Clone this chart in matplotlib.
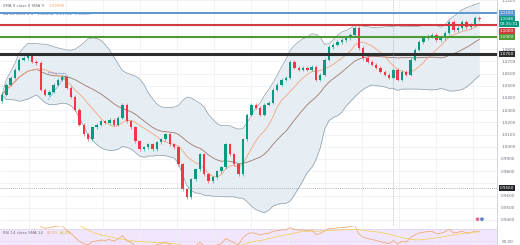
import matplotlib
matplotlib.use("Agg")
import matplotlib.pyplot as plt
import numpy as np
import pandas as pd

# daily closes
closes = [
    1.0427, 1.0509, 1.0566, 1.0631, 1.0713, 1.0729, 1.0754, 1.0697, 1.0688, 1.0468,
    1.0427, 1.0452, 1.0509, 1.0550, 1.0574, 1.0484, 1.0411, 1.0305, 1.0182, 1.0101,
    1.0060, 1.0158, 1.0182, 1.0207, 1.0198, 1.0223, 1.0182, 1.0239, 1.0346, 1.0207,
    1.0158, 1.0043, 0.9978, 0.9994, 1.0019, 0.9978, 1.0035, 1.0060, 1.0101, 1.0019,
    0.9994, 0.9855, 0.9651, 0.9586, 0.9733, 0.9815, 0.9937, 0.9774, 0.9717, 0.9749,
    0.9798, 0.9831, 1.0019, 0.9937, 0.9855, 0.9774, 1.0060, 1.0264, 1.0346, 1.0321,
    1.0264, 1.0346, 1.0362, 1.0468, 1.0509, 1.0550, 1.0566, 1.0697, 1.0648, 1.0631,
    1.0648, 1.0631, 1.0656, 1.0550, 1.0590, 1.0713, 1.0819, 1.0836, 1.0860, 1.0876,
    1.0893, 1.0917, 1.0974, 1.0811, 1.0729, 1.0697, 1.0672, 1.0648, 1.0615, 1.0590,
    1.0566, 1.0631, 1.0550, 1.0615, 1.0590, 1.0713, 1.0795, 1.0860, 1.0893, 1.0909,
    1.0917, 1.0876, 1.0893, 1.0933, 1.1023, 1.0958, 1.0974, 1.1023, 1.0982, 1.0999,
    1.1056, 1.1048,
]
first_open = 1.0372

# drawn horizontal levels
level_blue = 1.1100
level_red = 1.1000
level_green = 1.0900
level_black = 1.0760
level_dotted = 0.9660

# drawn triangle (candle index, price)
tri_top_x = [10.7, 14.9]
tri_top_y = [1.0607, 1.0599]
tri_low_x = [10.7, 14.9]
tri_low_y = [1.0386, 1.0590]

# economic-event icons (candle index, price)
event_x = [110.6, 111.6]
event_y = [0.9406, 0.9406]

price_ticks = [1.12, 1.08, 1.07, 1.06, 1.05, 1.04, 1.03, 1.02, 1.01, 1.00,
               0.99, 0.98, 0.96, 0.95, 0.94]
grid_ticks = np.round(np.arange(0.94, 1.125, 0.01), 2)

UP = "#089981"
DOWN = "#f23645"
GRID = "#eef1f6"
TXT = "#6a6d78"


def main():
    c = pd.Series(closes)
    o = pd.Series([first_open] + closes[:-1])
    idx = np.arange(len(c))

    basis = c.rolling(20, min_periods=1).mean()
    dev = c.rolling(20, min_periods=1).std(ddof=0)
    upper = basis + 2 * dev
    lower = basis - 2 * dev
    sma9 = c.rolling(9, min_periods=1).mean()

    delta = c.diff()
    gain = delta.clip(lower=0).ewm(alpha=1 / 14, adjust=False).mean()
    loss = (-delta.clip(upper=0)).ewm(alpha=1 / 14, adjust=False).mean()
    rsi = 100 - 100 / (1 + gain / loss)
    rsi_ma = rsi.rolling(14, min_periods=1).mean()

    fig = plt.figure(figsize=(5.2, 2.45), dpi=100)
    W, H = 520, 245
    ax = fig.add_axes([0, 19 / H, 497 / W, 226 / H])
    rx = fig.add_axes([0, -14 / H, 497 / W, 33 / H])

    xmin, xmax = -0.47, 115.1
    for a in (ax, rx):
        a.set_xlim(xmin, xmax)
        a.set_xticks(np.arange(6.3, 116, 8.6))
        a.grid(axis="x", color=GRID, lw=0.6)
        a.tick_params(axis="x", length=0, labelbottom=False)
        for s in ("top", "left", "bottom"):
            a.spines[s].set_visible(False)
        a.spines["right"].set_color("#c9ccd4")
        a.spines["right"].set_linewidth(0.6)
        a.set_axisbelow(True)

    ax.set_ylim(0.9350, 1.1203)
    for g in grid_ticks:
        ax.axhline(g, color=GRID, lw=0.6, zorder=0)
    ax.yaxis.tick_right()
    ax.set_yticks(price_ticks)
    ax.set_yticklabels([f"{t:.4f}" for t in price_ticks])
    ax.tick_params(axis="y", length=0, labelsize=3, labelcolor=TXT, pad=3)

    # bollinger bands
    ax.fill_between(idx, lower, upper, color="#e2ecf3", alpha=0.85, lw=0, zorder=1)
    ax.plot(idx, upper, color="#8c9aa6", lw=0.5, zorder=2)
    ax.plot(idx, lower, color="#8c9aa6", lw=0.5, zorder=2)
    ax.plot(idx, basis, color="#a0776c", lw=0.6, zorder=2)
    ax.plot(idx, sma9, color="#f3a57c", lw=0.6, zorder=2)

    # candles
    up = c >= o
    cols = np.where(up, UP, DOWN)
    hi = np.maximum(c, o) + 0.0014
    lo = np.minimum(c, o) - 0.0014
    ax.vlines(idx, lo, hi, colors=cols, lw=0.4, zorder=3)
    body = np.maximum((c - o).abs(), 0.0004)
    ax.bar(idx, body, bottom=np.minimum(c, o), width=0.55, color=cols, lw=0, zorder=4)

    # drawn levels
    ax.axhline(level_blue, color="#5b97d2", lw=1.4, zorder=5)
    ax.axhline(level_red, color="#d23a3f", lw=1.5, zorder=5)
    ax.axhline(level_green, color="#4d9a34", lw=1.5, zorder=5)
    ax.axhline(level_black, color="#2e2e2e", lw=2.2, zorder=5)
    ax.axhline(level_dotted, color="#9a9da6", lw=0.6, ls=(0, (1, 1.5)), zorder=5)
    ax.axvline(91, color="#9a9da6", lw=0.5, ls=(0, (1, 1.5)), zorder=5)
    ax.plot(tri_top_x, tri_top_y, color="#4a6fb5", lw=0.6, ls=(0, (1, 1)), zorder=6)
    ax.plot(tri_low_x, tri_low_y, color="#4a6fb5", lw=0.6, ls=(0, (1, 1)), zorder=6)
    ax.scatter(event_x, event_y, s=9, c=["#e86a8a", "#5f7fc8"], edgecolors="white",
               linewidths=0.3, zorder=7)

    # price-scale labels
    def tag(y, text, color, dy=0):
        ax.annotate(text, xy=(1, y), xycoords=("axes fraction", "data"),
                    xytext=(2.2, dy), textcoords="offset points", fontsize=3,
                    color="white", va="center", ha="left", annotation_clip=False,
                    bbox=dict(boxstyle="square,pad=0.25", fc=color, ec="none"), zorder=10)

    tag(level_blue, f"{level_blue:.4f}", "#5b97d2")
    tag(closes[-1], f"{closes[-1]:.4f}", UP)
    tag(closes[-1] - 0.0045, "09:35:31", UP)
    tag(level_red, f"{level_red:.4f}", "#d23a3f", dy=-4.3)
    tag(level_green, f"{level_green:.4f}", "#4d9a34")
    tag(level_black, f"{level_black:.4f}", "#2e2e2e")
    tag(level_dotted, f"{level_dotted:.4f}", "#23252b")

    # legends
    ax.text(0.006, 0.975, "SMA 9 close 0 SMA 9", transform=ax.transAxes,
            fontsize=2.8, color=TXT, va="center")
    ax.text(0.097, 0.975, f"{sma9.iloc[-1]:.5f}", transform=ax.transAxes,
            fontsize=2.8, color="#f0a060", va="center")
    ax.text(0.006, 0.94, "BB 20 close 2 0", transform=ax.transAxes,
            fontsize=2.8, color=TXT, va="center")
    ax.text(0.074, 0.94, f"{basis.iloc[-1]:.5f}  {upper.iloc[-1]:.5f}  {lower.iloc[-1]:.5f}",
            transform=ax.transAxes, fontsize=2.8, color="#3d7fb8", va="center")

    # RSI panel
    rx.set_ylim(20, 75)
    rx.axhspan(30, 70, color="#f1e6fb", lw=0, zorder=0)
    rx.axhline(70, color="#c9bfd9", lw=0.4, ls=(0, (3, 2)))
    rx.axhline(50, color="#c9bfd9", lw=0.4, ls=(0, (1, 2)))
    rx.plot(idx, rsi, color="#f0a060", lw=0.5)
    rx.plot(idx, rsi_ma, color="#f2cf4a", lw=0.5)
    rx.yaxis.tick_right()
    rx.set_yticks([50])
    rx.set_yticklabels(["50.00"])
    rx.tick_params(axis="y", length=0, labelsize=3, labelcolor=TXT, pad=3)
    rx.text(0.006, 0.80, "RSI 14 close SMA 14", transform=rx.transAxes,
            fontsize=2.8, color=TXT, va="center")
    rx.text(0.094, 0.80, f"{rsi.iloc[-1]:.2f}", transform=rx.transAxes,
            fontsize=2.8, color="#f0a060", va="center")
    rx.text(0.120, 0.80, f"{rsi_ma.iloc[-1]:.2f}", transform=rx.transAxes,
            fontsize=2.8, color="#d8b400", va="center")

    fig.savefig("out.png", dpi=100)
    plt.close(fig)


if __name__ == "__main__":
    main()
